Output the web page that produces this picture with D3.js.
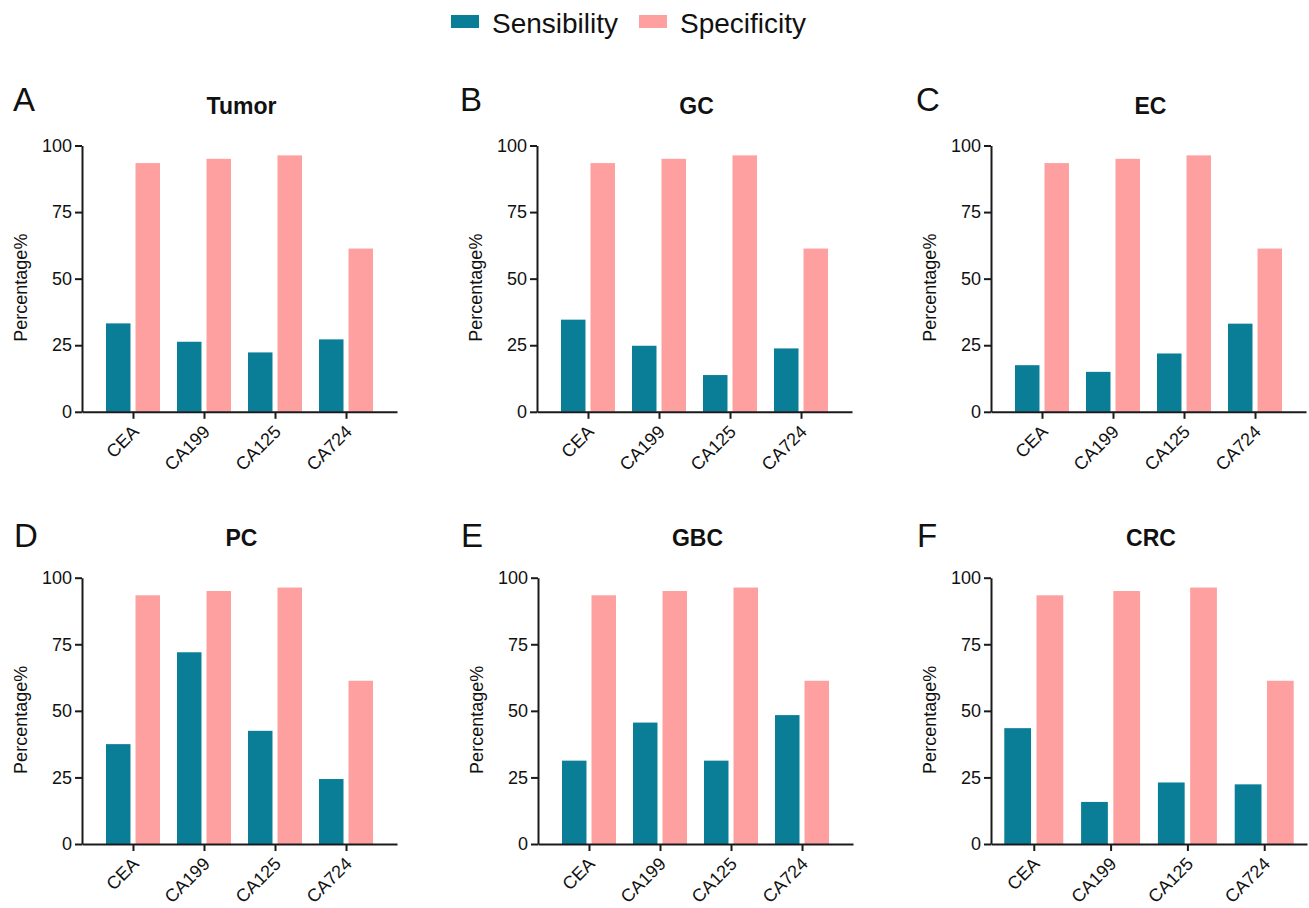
<!DOCTYPE html>
<html>
<head>
<meta charset="utf-8">
<script src="https://cdn.jsdelivr.net/npm/d3@7"></script>
<style>
  body { margin: 0; background: #fff; }
  text { font-family: "Liberation Sans", Arial, sans-serif; fill: #111; }
</style>
</head>
<body>
<script>
// data
var categories = ["CEA", "CA199", "CA125", "CA724"];
var seriesNames = ["Sensibility", "Specificity"];
var panelLetters = ["A", "B", "C", "D", "E", "F"];
var panelTitles = ["Tumor", "GC", "EC", "PC", "GBC", "CRC"];
var specificity = [93.4, 95.0, 96.3, 61.3];
var sensTumor = [33.2, 26.3, 22.3, 27.2];
var sensGC = [34.6, 24.8, 13.8, 23.8];
var sensEC = [17.5, 15.0, 21.9, 33.1];
var sensPC = [37.5, 72.0, 42.5, 24.4];
var sensGBC = [31.3, 45.6, 31.3, 48.4];
var sensCRC = [43.5, 15.8, 23.1, 22.4];
var yTicks = [0, 25, 50, 75, 100];

var w = 1309;
var h = 908;
var ph = 266.3;   // plot height

var color = d3.scaleOrdinal().domain(seriesNames).range(["#0A7E96", "#FFA0A0"]);

var svg = d3.select("body")
      .append("svg")
      .attr("width", w)
      .attr("height", h);

// panel placement
var layout = [
  { x0: 82,  y0: 145.5, pw: 315, pad: 0.718, half: 27,   lx: 13,  ly: 111 },
  { x0: 537, y0: 145.5, pw: 315, pad: 0.718, half: 27,   lx: 460, ly: 111 },
  { x0: 991, y0: 145.5, pw: 315, pad: 0.718, half: 27,   lx: 916, ly: 111 },
  { x0: 82,  y0: 577.7, pw: 315, pad: 0.718, half: 27,   lx: 14,  ly: 547 },
  { x0: 538, y0: 577.7, pw: 315, pad: 0.718, half: 27,   lx: 461, ly: 547 },
  { x0: 991, y0: 577.7, pw: 316, pad: 0.557, half: 29.5, lx: 917, ly: 547 }
];
var sensAll = [sensTumor, sensGC, sensEC, sensPC, sensGBC, sensCRC];

layout.forEach(function(p, k) {
  var rows = categories.map(function(c, i) {
    return { cat: c, Sensibility: sensAll[k][i], Specificity: specificity[i] };
  });

  var x = d3.scalePoint().domain(categories).range([0, p.pw]).padding(p.pad);
  var xs = d3.scaleBand().domain(seriesNames).range([-p.half, p.half]).paddingInner(0.17);
  var y = d3.scaleLinear().domain([0, 100]).range([ph, 0]);

  var g = svg.append("g").attr("transform", "translate(" + p.x0 + "," + p.y0 + ")");

  // bars
  var grp = g.selectAll("g.cat")
     .data(rows)
     .enter()
     .append("g")
     .attr("class", "cat")
     .attr("transform", function(d) { return "translate(" + x(d.cat) + ",0)"; });

  grp.selectAll("rect")
     .data(function(d) { return seriesNames.map(function(s) { return { key: s, value: d[s] }; }); })
     .enter()
     .append("rect")
     .attr("x", function(d) { return xs(d.key); })
     .attr("y", function(d) { return y(d.value); })
     .attr("width", xs.bandwidth())
     .attr("height", function(d) { return ph - y(d.value); })
     .attr("fill", function(d) { return color(d.key); });

  // axes
  var yAxis = g.append("g")
     .call(d3.axisLeft(y).tickValues(yTicks).tickSize(7).tickSizeOuter(0).tickPadding(3));
  var xAxis = g.append("g")
     .attr("transform", "translate(0," + ph + ")")
     .call(d3.axisBottom(x).tickSize(7).tickSizeOuter(0).tickFormat(""));

  [yAxis, xAxis].forEach(function(a) {
    a.selectAll("path, line").attr("stroke", "#1a1a1a").attr("stroke-width", 2);
    a.selectAll("text").attr("font-size", "18px").attr("font-family", "Liberation Sans, Arial, sans-serif").attr("fill", "#111");
  });

  g.selectAll("text.xl")
     .data(categories)
     .enter()
     .append("text")
     .attr("class", "xl")
     .attr("text-anchor", "end")
     .attr("font-size", "18px")
     .attr("transform", function(d) { return "translate(" + (x(d) + 7) + "," + (ph + 21) + ") rotate(-45)"; })
     .text(function(d) { return d; });

  // y title
  g.append("text")
     .attr("text-anchor", "middle")
     .attr("font-size", "18px")
     .attr("transform", "translate(-55," + (ph / 2 + 9) + ") rotate(-90)")
     .text("Percentage%");

  // panel title
  g.append("text")
     .attr("x", p.pw / 2 + 2)
     .attr("y", -32)
     .attr("text-anchor", "middle")
     .attr("font-size", "23px")
     .attr("font-weight", "bold")
     .text(panelTitles[k]);

  svg.append("text")
     .attr("x", p.lx)
     .attr("y", p.ly)
     .attr("font-size", "33px")
     .text(panelLetters[k]);
});

// legend
var legendX = [451, 639];
var leg = svg.selectAll("g.leg")
     .data(seriesNames)
     .enter()
     .append("g")
     .attr("class", "leg")
     .attr("transform", function(d, i) { return "translate(" + legendX[i] + ",0)"; });

leg.append("rect")
     .attr("x", 0)
     .attr("y", 15)
     .attr("width", 28)
     .attr("height", 13)
     .attr("fill", function(d) { return color(d); });

leg.append("text")
     .attr("x", 41)
     .attr("y", 33)
     .attr("font-size", "28px")
     .text(function(d) { return d; });
</script>
</body>
</html>
